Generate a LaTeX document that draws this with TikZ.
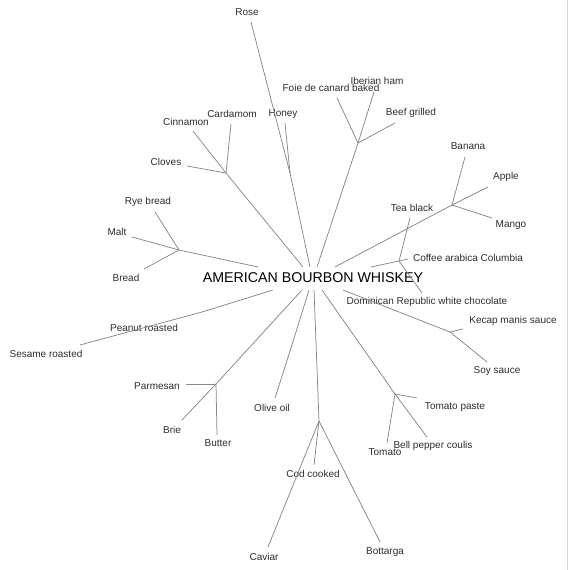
\documentclass[tikz,border=0pt]{standalone}
\usepackage{fontspec}
\setmainfont{Liberation Sans}
\definecolor{edgec}{RGB}{135,135,135}
\definecolor{txtc}{RGB}{45,45,45}
\definecolor{framec}{RGB}{215,215,215}
\begin{document}
\begin{tikzpicture}[x=1bp,y=-1bp,
  lbl/.style={inner sep=0pt,text=txtc,font=\fontsize{10bp}{12bp}\selectfont},
  hubtxt/.style={inner sep=0pt,text=black,font=\fontsize{14.2bp}{16bp}\selectfont},
  edge/.style={draw=edgec,line width=0.75bp}]
\useasboundingbox (0,0) rectangle (568,570);
\draw[framec,line width=0.8bp] (567.5,0) -- (567.5,570);
% hub
\node[hubtxt] (hub) at (313,278) {AMERICAN BOURBON WHISKEY};
% hub attachment points
\coordinate (hA) at (258,267);
\coordinate (hB) at (303,267);
\coordinate (hC) at (310,267);
\coordinate (hD) at (317,267);
\coordinate (hE) at (335,267);
\coordinate (hF) at (371,267);
\coordinate (hG) at (273,290);
\coordinate (hH) at (302,290);
\coordinate (hI) at (309,290);
\coordinate (hJ) at (314,290);
\coordinate (hK) at (322,290);
\coordinate (hL) at (343,290);
% junctions
\coordinate (jBread) at (179,250);
\coordinate (jClove) at (226,173);
\coordinate (jHoney) at (290,173);
\coordinate (jMeat) at (358,143);
\coordinate (jFruit) at (452,205);
\coordinate (jCoffee) at (399,261);
\coordinate (jSoy) at (450,332);
\coordinate (jPeanut) at (202,312);
\coordinate (jCheese) at (216,384);
\coordinate (jOlive) at (291,348);
\coordinate (jCod) at (319,421);
\coordinate (jTomato) at (395,394);
% leaf ends
\coordinate (eRose) at (251,22);
\coordinate (eHoney) at (285,123);
\coordinate (eCard) at (231,124);
\coordinate (eCinn) at (193,131);
\coordinate (eClove) at (187,166);
\coordinate (eFoie) at (337,98);
\coordinate (eIber) at (374,92);
\coordinate (eBeef) at (395,123);
\coordinate (eRye) at (155,212);
\coordinate (eMalt) at (132,237);
\coordinate (eBread) at (144,269);
\coordinate (eSesame) at (80,345);
\coordinate (eBanana) at (465,157);
\coordinate (eApple) at (488,187);
\coordinate (eMango) at (492,218);
\coordinate (eTea) at (410,218);
\coordinate (eCoffee) at (408,259);
\coordinate (eDom) at (422,293);
\coordinate (eKecap) at (463,329);
\coordinate (eSoy) at (487,362);
\coordinate (eParm) at (186,384);
\coordinate (eBrie) at (182,420);
\coordinate (eButter) at (217,435);
\coordinate (eOlive) at (275,398);
\coordinate (eCaviar) at (268,547);
\coordinate (eBott) at (380,542);
\coordinate (eCod) at (314,465);
\coordinate (eTomPaste) at (417,398);
\coordinate (eTomato) at (387,443);
\coordinate (eBell) at (427,437);
% labels
\node[lbl] (Rose) at (247,12) {Rose};
\node[lbl] (Foie) at (331,88) {Foie de canard baked};
\node[lbl] (Iber) at (377,81) {Iberian ham};
\node[lbl] (Beef) at (411,113) {Beef grilled};
\node[lbl] (Honey) at (283,114) {Honey};
\node[lbl] (Card) at (232,114) {Cardamom};
\node[lbl] (Cinn) at (186,122) {Cinnamon};
\node[lbl] (Clove) at (166,162) {Cloves};
\node[lbl] (Rye) at (148,202) {Rye bread};
\node[lbl] (Malt) at (117,232) {Malt};
\node[lbl] (Bread) at (126,278) {Bread};
\node[lbl] (Peanut) at (144,328) {Peanut roasted};
\node[lbl] (Sesame) at (46,354) {Sesame roasted};
\node[lbl] (Banana) at (468,146) {Banana};
\node[lbl] (Apple) at (506,177) {Apple};
\node[lbl] (Mango) at (511,225) {Mango};
\node[lbl] (Tea) at (412,208) {Tea black};
\node[lbl] (Coffee) at (468,258) {Coffee arabica Columbia};
\node[lbl] (Dom) at (427,302) {Dominican Republic white chocolate};
\node[lbl] (Kecap) at (513,321) {Kecap manis sauce};
\node[lbl] (Soy) at (497,371) {Soy sauce};
\node[lbl] (Parm) at (157,386) {Parmesan};
\node[lbl] (Brie) at (172,430) {Brie};
\node[lbl] (Butter) at (218,443) {Butter};
\node[lbl] (Olive) at (272,408) {Olive oil};
\node[lbl] (Cod) at (313,474) {Cod cooked};
\node[lbl] (Caviar) at (264,557) {Caviar};
\node[lbl] (Bott) at (385,552) {Bottarga};
\node[lbl] (TomPaste) at (455,407) {Tomato paste};
\node[lbl] (Tomato) at (385,452) {Tomato};
\node[lbl] (Bell) at (433,446) {Bell pepper coulis};
% edges
\draw[edge] (hA) -- (jBread);
\draw[edge] (jBread) -- (eRye);
\draw[edge] (jBread) -- (eMalt);
\draw[edge] (jBread) -- (eBread);
\draw[edge] (hB) -- (jClove);
\draw[edge] (jClove) -- (eCard);
\draw[edge] (jClove) -- (eCinn);
\draw[edge] (jClove) -- (eClove);
\draw[edge] (hC) -- (jHoney);
\draw[edge] (jHoney) -- (eRose);
\draw[edge] (jHoney) -- (eHoney);
\draw[edge] (hD) -- (jMeat);
\draw[edge] (jMeat) -- (eFoie);
\draw[edge] (jMeat) -- (eIber);
\draw[edge] (jMeat) -- (eBeef);
\draw[edge] (hE) -- (jFruit);
\draw[edge] (jFruit) -- (eBanana);
\draw[edge] (jFruit) -- (eApple);
\draw[edge] (jFruit) -- (eMango);
\draw[edge] (hF) -- (jCoffee);
\draw[edge] (jCoffee) -- (eTea);
\draw[edge] (jCoffee) -- (eCoffee);
\draw[edge] (jCoffee) -- (eDom);
\draw[edge] (hL) -- (jSoy);
\draw[edge] (jSoy) -- (eKecap);
\draw[edge] (jSoy) -- (eSoy);
\draw[edge] (hG) -- (jPeanut);
\draw[edge] (jPeanut) -- (eSesame);
\draw[edge] (hH) -- (jCheese);
\draw[edge] (jCheese) -- (eParm);
\draw[edge] (jCheese) -- (eBrie);
\draw[edge] (jCheese) -- (eButter);
\draw[edge] (hI) -- (jOlive);
\draw[edge] (jOlive) -- (eOlive);
\draw[edge] (hJ) -- (jCod);
\draw[edge] (jCod) -- (eCaviar);
\draw[edge] (jCod) -- (eBott);
\draw[edge] (jCod) -- (eCod);
\draw[edge] (hK) -- (jTomato);
\draw[edge] (jTomato) -- (eTomPaste);
\draw[edge] (jTomato) -- (eTomato);
\draw[edge] (jTomato) -- (eBell);
\end{tikzpicture}
\end{document}
